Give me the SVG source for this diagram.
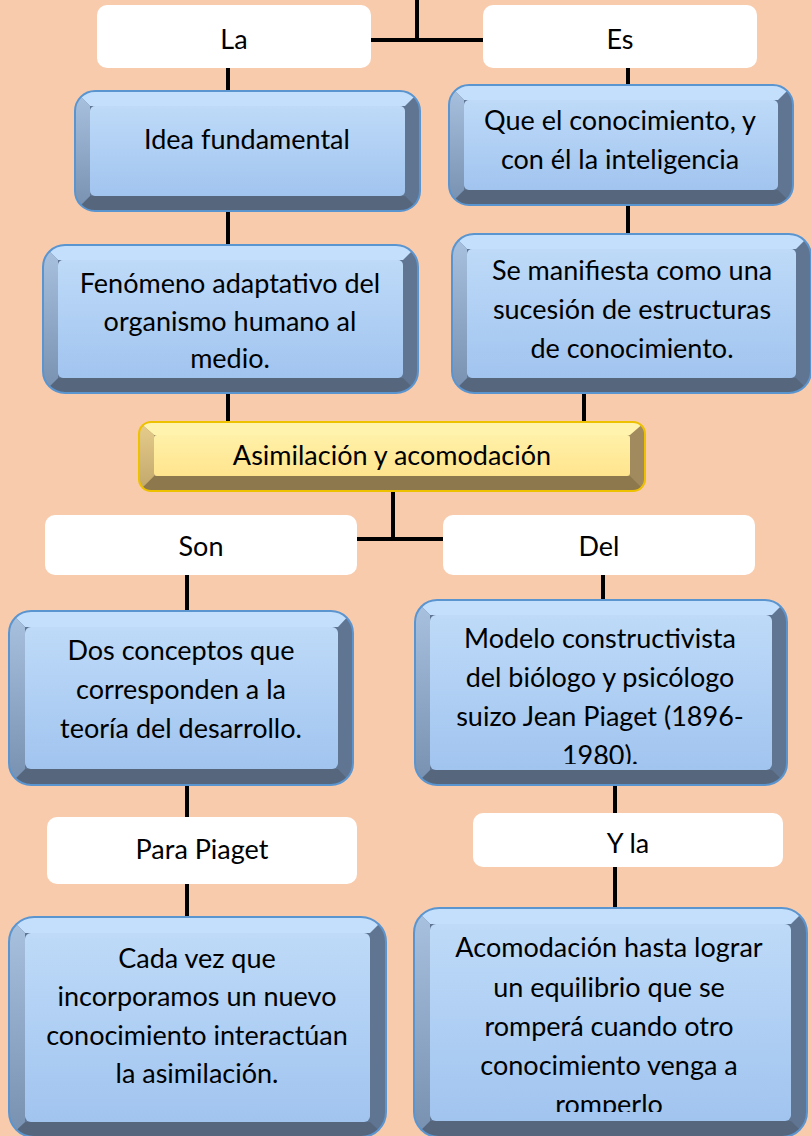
<svg xmlns="http://www.w3.org/2000/svg" width="811" height="1136" viewBox="0 0 811 1136">
<style>
.t{font-family:Lato,"Open Sans","DejaVu Sans",sans-serif;font-size:27px;fill:#000;text-anchor:middle}
.lbl{fill:#fff}
.con{stroke:#000;stroke-width:4;fill:none}
.bTop{fill:#C4DFFB}
.bBot{fill:#56677D}
.bRight{fill:#5F7592}
.bLeft{fill:url(#gbLeft)}
.bFace{fill:url(#gbFace)}
.bOut{fill:none;stroke:#5B95D0;stroke-width:2}
.yTop{fill:#FFF3AE}
.yBot{fill:#8C784C}
.yRight{fill:#A08A5E}
.yLeft{fill:url(#gyLeft)}
.yFace{fill:url(#gyFace)}
.yOut{fill:none;stroke:#EDC000;stroke-width:2}
</style>
<defs>
<linearGradient id="gbFace" x1="0" y1="0" x2="0" y2="1"><stop offset="0" stop-color="#BEDAF8"/><stop offset="1" stop-color="#A1C4EF"/></linearGradient>
<linearGradient id="gbLeft" x1="0" y1="0" x2="0" y2="1"><stop offset="0" stop-color="#A8C2E0"/><stop offset="1" stop-color="#7890B0"/></linearGradient>
<linearGradient id="gyFace" x1="0" y1="0" x2="0" y2="1"><stop offset="0" stop-color="#FFF1A8"/><stop offset="1" stop-color="#FFE48E"/></linearGradient>
<linearGradient id="gyLeft" x1="0" y1="0" x2="0" y2="1"><stop offset="0" stop-color="#E6CC8C"/><stop offset="1" stop-color="#C2A76C"/></linearGradient>
<clipPath id="c1"><rect x="75" y="91" width="345" height="120" rx="20"/></clipPath>
<clipPath id="c2"><rect x="449" y="85" width="344" height="120" rx="20"/></clipPath>
<clipPath id="c3"><rect x="43" y="245" width="375" height="148" rx="22"/></clipPath>
<clipPath id="c4"><rect x="452" y="234" width="359" height="159" rx="22"/></clipPath>
<clipPath id="c5"><rect x="139" y="422" width="506" height="69" rx="12"/></clipPath>
<clipPath id="c6"><rect x="9" y="611" width="344" height="174" rx="22"/></clipPath>
<clipPath id="c7"><rect x="415" y="600" width="372" height="185" rx="22"/></clipPath>
<clipPath id="c8"><rect x="9" y="917" width="377" height="220" rx="25"/></clipPath>
<clipPath id="c9"><rect x="414" y="908" width="393" height="229" rx="25"/></clipPath>
<clipPath id="tc7"><rect x="415" y="600" width="372" height="164"/></clipPath>
<clipPath id="tc9"><rect x="414" y="908" width="393" height="204"/></clipPath>
</defs>
<rect width="811" height="1136" fill="#F8CBAD"/>

<g id="connectors">
<path class="con" d="M417,0 V40 M370,40 H484"/>
<path class="con" d="M228,68 V91 M228,211 V245 M228,393 V422"/>
<path class="con" d="M628,68 V85 M628,205 V234 M584,393 V422"/>
<path class="con" d="M393,491 V539 M357,539 H443"/>
<path class="con" d="M187,575 V611 M187,785 V817 M187,884 V917"/>
<path class="con" d="M603,575 V600 M615,785 V813 M615,867 V908"/>
</g>

<g id="lbl-la"><rect class="lbl" x="97" y="5" width="274" height="63" rx="10"/><text class="t" x="234" y="49">La</text></g>
<g id="lbl-es"><rect class="lbl" x="483" y="5" width="274" height="63" rx="10"/><text class="t" x="620" y="49">Es</text></g>

<g id="n-idea">
<g clip-path="url(#c1)"><rect class="bRight" x="75" y="91" width="345" height="120"/><polygon class="bBot" points="75,211 420,211 405,196 90,196"/><polygon class="bTop" points="75,91 420,91 405,106 90,106"/><polygon class="bLeft" points="75,91 90,106 90,196 75,211"/></g>
<rect class="bFace" x="90" y="106" width="315" height="90" rx="5"/>
<rect class="bOut" x="75" y="91" width="345" height="120" rx="20"/>
<text class="t" x="247" y="149">Idea fundamental</text>
</g>

<g id="n-que">
<g clip-path="url(#c2)"><rect class="bRight" x="449" y="85" width="344" height="120"/><polygon class="bBot" points="449,205 793,205 778,190 464,190"/><polygon class="bTop" points="449,85 793,85 778,100 464,100"/><polygon class="bLeft" points="449,85 464,100 464,190 449,205"/></g>
<rect class="bFace" x="464" y="100" width="314" height="90" rx="5"/>
<rect class="bOut" x="449" y="85" width="344" height="120" rx="20"/>
<text class="t" x="620" y="130">Que el conocimiento, y</text>
<text class="t" x="620" y="169">con él la inteligencia</text>
</g>

<g id="n-fen">
<g clip-path="url(#c3)"><rect class="bRight" x="43" y="245" width="375" height="148"/><polygon class="bBot" points="43,393 418,393 403,378 58,378"/><polygon class="bTop" points="43,245 418,245 403,260 58,260"/><polygon class="bLeft" points="43,245 58,260 58,378 43,393"/></g>
<rect class="bFace" x="58" y="260" width="345" height="118" rx="5"/>
<rect class="bOut" x="43" y="245" width="375" height="148" rx="22"/>
<text class="t" x="230" y="293">Fenómeno adaptativo del</text>
<text class="t" x="230" y="331">organismo humano al</text>
<text class="t" x="230" y="368">medio.</text>
</g>

<g id="n-se">
<g clip-path="url(#c4)"><rect class="bRight" x="452" y="234" width="359" height="159"/><polygon class="bBot" points="452,393 811,393 796,378 467,378"/><polygon class="bTop" points="452,234 811,234 796,249 467,249"/><polygon class="bLeft" points="452,234 467,249 467,378 452,393"/></g>
<rect class="bFace" x="467" y="249" width="329" height="129" rx="5"/>
<rect class="bOut" x="452" y="234" width="359" height="159" rx="22"/>
<text class="t" x="632" y="280">Se manifiesta como una</text>
<text class="t" x="632" y="319">sucesión de estructuras</text>
<text class="t" x="632" y="358">de conocimiento.</text>
</g>

<g id="n-asim">
<g clip-path="url(#c5)"><rect class="yRight" x="139" y="422" width="506" height="69"/><polygon class="yBot" points="139,491 645,491 630,476 154,476"/><polygon class="yTop" points="139,422 645,422 630,435 154,435"/><polygon class="yLeft" points="139,422 154,435 154,476 139,491"/></g>
<rect class="yFace" x="154" y="435" width="476" height="41" rx="3"/>
<rect class="yOut" x="139" y="422" width="506" height="69" rx="12"/>
<text class="t" x="392" y="465">Asimilación y acomodación</text>
</g>

<g id="lbl-son"><rect class="lbl" x="45" y="515" width="312" height="60" rx="10"/><text class="t" x="201" y="556">Son</text></g>
<g id="lbl-del"><rect class="lbl" x="443" y="515" width="312" height="60" rx="10"/><text class="t" x="599" y="556">Del</text></g>

<g id="n-dos">
<g clip-path="url(#c6)"><rect class="bRight" x="9" y="611" width="344" height="174"/><polygon class="bBot" points="9,785 353,785 338,769 25,769"/><polygon class="bTop" points="9,611 353,611 338,627 25,627"/><polygon class="bLeft" points="9,611 25,627 25,769 9,785"/></g>
<rect class="bFace" x="25" y="627" width="313" height="142" rx="6"/>
<rect class="bOut" x="9" y="611" width="344" height="174" rx="22"/>
<text class="t" x="181" y="660">Dos conceptos que</text>
<text class="t" x="181" y="699">corresponden a la</text>
<text class="t" x="181" y="738">teoría del desarrollo.</text>
</g>

<g id="n-modelo">
<g clip-path="url(#c7)"><rect class="bRight" x="415" y="600" width="372" height="185"/><polygon class="bBot" points="415,785 787,785 772,770 430,770"/><polygon class="bTop" points="415,600 787,600 772,615 430,615"/><polygon class="bLeft" points="415,600 430,615 430,770 415,785"/></g>
<rect class="bFace" x="430" y="615" width="342" height="155" rx="6"/>
<rect class="bOut" x="415" y="600" width="372" height="185" rx="22"/>
<g clip-path="url(#tc7)">
<text class="t" x="600" y="648">Modelo constructivista</text>
<text class="t" x="600" y="687">del biólogo y psicólogo</text>
<text class="t" x="600" y="726">suizo Jean Piaget (1896-</text>
<text class="t" x="600" y="765">1980).</text>
</g>
</g>

<g id="lbl-para"><rect class="lbl" x="47" y="817" width="310" height="67" rx="10"/><text class="t" x="202" y="859">Para Piaget</text></g>
<g id="lbl-yla"><rect class="lbl" x="473" y="813" width="310" height="54" rx="10"/><text class="t" x="628" y="853">Y la</text></g>

<g id="n-cada">
<g clip-path="url(#c8)"><rect class="bRight" x="9" y="917" width="377" height="220"/><polygon class="bBot" points="9,1137 386,1137 370,1122 25,1122"/><polygon class="bTop" points="9,917 386,917 370,933 25,933"/><polygon class="bLeft" points="9,917 25,933 25,1122 9,1137"/></g>
<rect class="bFace" x="25" y="933" width="345" height="189" rx="6"/>
<rect class="bOut" x="9" y="917" width="377" height="220" rx="25"/>
<text class="t" x="197" y="968">Cada vez que</text>
<text class="t" x="197" y="1006">incorporamos un nuevo</text>
<text class="t" x="197" y="1045">conocimiento interactúan</text>
<text class="t" x="197" y="1083">la asimilación.</text>
</g>

<g id="n-acom">
<g clip-path="url(#c9)"><rect class="bRight" x="414" y="908" width="393" height="229"/><polygon class="bBot" points="414,1137 807,1137 791,1121 430,1121"/><polygon class="bTop" points="414,908 807,908 791,924 430,924"/><polygon class="bLeft" points="414,908 430,924 430,1121 414,1137"/></g>
<rect class="bFace" x="430" y="924" width="361" height="197" rx="6"/>
<rect class="bOut" x="414" y="908" width="393" height="229" rx="25"/>
<g clip-path="url(#tc9)">
<text class="t" x="609" y="957">Acomodación hasta lograr</text>
<text class="t" x="609" y="997">un equilibrio que se</text>
<text class="t" x="609" y="1036">romperá cuando otro</text>
<text class="t" x="609" y="1075">conocimiento venga a</text>
<text class="t" x="609" y="1114">romperlo</text>
</g>
</g>
</svg>
